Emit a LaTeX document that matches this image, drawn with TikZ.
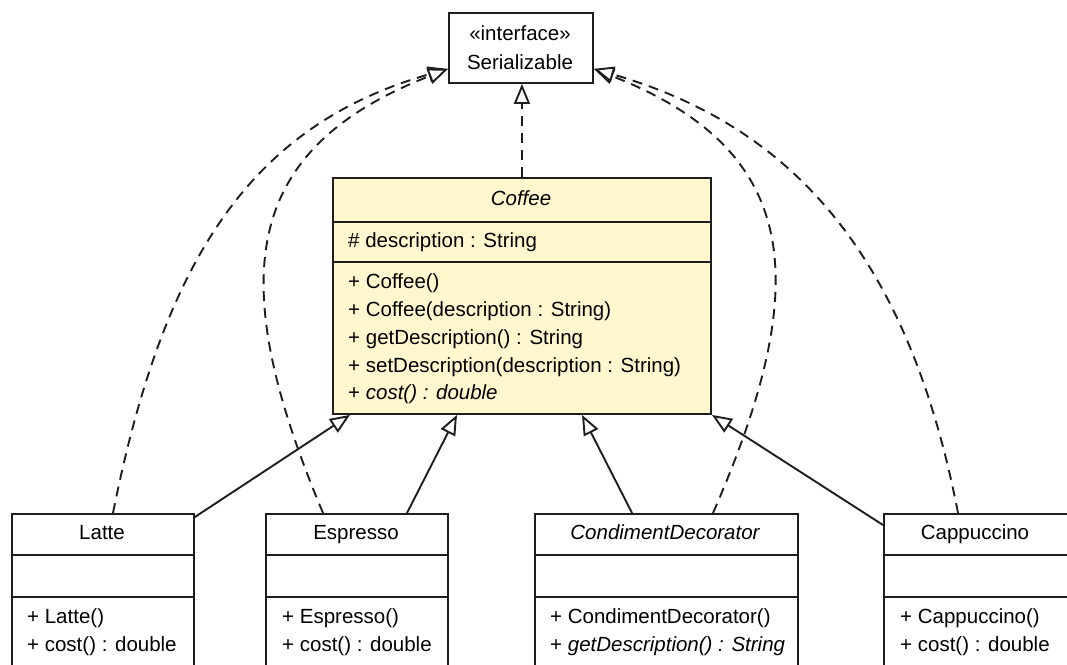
\documentclass[tikz,border=0pt]{standalone}
\usepackage{fontspec}
\setmainfont{Liberation Sans}
\usetikzlibrary{arrows.meta,calc}
\definecolor{cofffill}{RGB}{255,248,206}
\definecolor{edgec}{RGB}{30,30,30}
\begin{document}
\begin{tikzpicture}[x=1pt,y=-1pt,
  box/.style={draw=edgec, line width=1.9pt, rectangle, inner sep=0pt, anchor=north west, fill=white},
  sepline/.style={draw=edgec, line width=1.9pt},
  lbl/.style={font=\fontsize{20.5}{24}\selectfont, inner sep=0pt, anchor=base},
  lft/.style={font=\fontsize{20.5}{24}\selectfont, inner sep=0pt, anchor=base west},
  inh/.style={line width=1.9pt, draw=edgec, -{Triangle[length=20pt,width=16pt,fill=white]}},
  realiz/.style={inh, dash pattern=on 10pt off 7pt},
]
\clip (0,0) rectangle (1067,664);
\fill[white] (0,0) rectangle (1067,664);

% Serializable
\node[box, minimum width=144pt, minimum height=70pt] (ser) at (448,12) {};
\node[lbl] (serst) at (520,40) {«interface»};
\node[lbl] (sername) at (520,69) {Serializable};

% Coffee
\node[box, fill=cofffill, minimum width=378pt, minimum height=236pt] (coffee) at (332,177) {};
\draw[sepline] ($(coffee.north west)+(0,45)$) -- ($(coffee.north east)+(0,45)$);
\draw[sepline] ($(coffee.north west)+(0,85)$) -- ($(coffee.north east)+(0,85)$);
\node[lbl] (cname) at (521,205) {\itshape Coffee};
\node[lft] (cattr) at (348,247) {\# description : String};
\node[lft] (cm1) at (348,288) {+ Coffee()};
\node[lft] (cm2) at (348,316) {+ Coffee(description : String)};
\node[lft] (cm3) at (348,344) {+ getDescription() : String};
\node[lft] (cm4) at (348,372) {+ setDescription(description : String)};
\node[lft] (cm5) at (348,399) {+ \itshape cost() : double};

% Bottom classes
\node[box, minimum width=182pt, minimum height=200pt] (latte) at (11,513) {};
\node[box, minimum width=182pt, minimum height=200pt] (espresso) at (265,513) {};
\node[box, minimum width=263pt, minimum height=200pt] (cond) at (534,513) {};
\node[box, minimum width=250pt, minimum height=200pt] (capp) at (883,513) {};
\foreach \b in {latte,espresso,cond,capp}{
  \draw[sepline] ($(\b.north west)+(0,42)$) -- ($(\b.north east)+(0,42)$);
  \draw[sepline] ($(\b.north west)+(0,84)$) -- ($(\b.north east)+(0,84)$);
}
\node[lbl] (lname) at (102,539) {Latte};
\node[lft] (lm1) at (27,623) {+ Latte()};
\node[lft] (lm2) at (27,651) {+ cost() : double};
\node[lbl] (ename) at (356,539) {Espresso};
\node[lft] (em1) at (282,623) {+ Espresso()};
\node[lft] (em2) at (282,651) {+ cost() : double};
\node[lbl] (dname) at (665,539) {\itshape CondimentDecorator};
\node[lft] (dm1) at (550,623) {+ CondimentDecorator()};
\node[lft] (dm2) at (550,651) {+ \itshape getDescription() : String};
\node[lbl] (pname) at (975,539) {Cappuccino};
\node[lft] (pm1) at (900,623) {+ Cappuccino()};
\node[lft] (pm2) at (900,651) {+ cost() : double};

% Generalizations
\draw[inh] ($(latte.north east)+(0,4)$) -- ($(coffee.south west)+(18,0)$);
\draw[inh] ($(espresso.north west)+(142,0)$) -- ($(coffee.south west)+(125,0)$);
\draw[inh] ($(cond.north west)+(98,0)$) -- ($(coffee.south west)+(250,0)$);
\draw[inh] ($(capp.north west)+(0,12)$) -- (coffee.south east);

% Realizations
\draw[realiz] (coffee.north) -- (coffee.north |- ser.south);
\draw[realiz] ($(latte.north west)+(102,0)$) .. controls (163,263) and (248,126) .. ($(ser.south west)+(0,-15)$);
\draw[realiz] ($(espresso.north west)+(58,0)$) .. controls (225,280) and (240,150) .. ($(ser.south west)+(0,-15)$);
\draw[realiz] ($(cond.north west)+(179,0)$) .. controls (815,280) and (800,150) .. ($(ser.south east)+(0,-15)$);
\draw[realiz] ($(capp.north west)+(75,0)$) .. controls (908,255) and (792,126) .. ($(ser.south east)+(0,-15)$);
\end{tikzpicture}
\end{document}
